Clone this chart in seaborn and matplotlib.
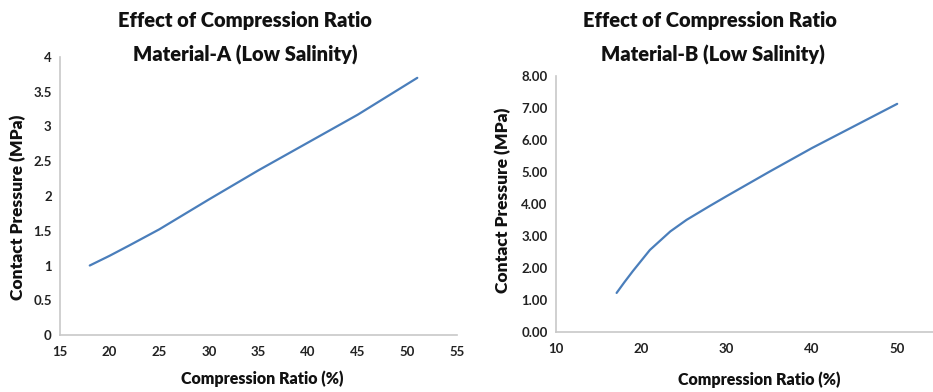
import matplotlib
matplotlib.use("Agg")
import matplotlib.pyplot as plt
import seaborn as sns
import pandas as pd

# Material-A (low salinity): compression ratio (%) vs contact pressure (MPa)
ratio_a = [18, 20, 22, 25, 30, 35, 40, 45, 51]
pressure_a = [1.00, 1.14, 1.29, 1.52, 1.95, 2.37, 2.77, 3.17, 3.70]

# Material-B (low salinity)
ratio_b = [17.1, 18, 19, 21, 23.4, 25.3, 28, 30, 35, 40, 45, 50]
pressure_b = [1.22, 1.55, 1.90, 2.56, 3.14, 3.50, 3.93, 4.24, 5.00, 5.74, 6.43, 7.12]

yticks_a = [0, 0.5, 1, 1.5, 2, 2.5, 3, 3.5, 4]
xticks_a = [15, 20, 25, 30, 35, 40, 45, 50, 55]
yticks_b = [0, 1, 2, 3, 4, 5, 6, 7, 8]
xticks_b = [10, 20, 30, 40, 50]

sns.set_theme(style="white")
plt.rcParams["font.family"] = ["Lato", "DejaVu Sans"]

LINE = "#4a7ebb"
SPINE = "#c8c8c8"

fig = plt.figure(figsize=(9.33, 3.92), dpi=100)
ax_a = fig.add_axes([0.0643, 0.1454, 0.4255, 0.7092])
ax_b = fig.add_axes([0.596, 0.153, 0.404, 0.654])

df_a = pd.DataFrame({"ratio": ratio_a, "pressure": pressure_a})
df_b = pd.DataFrame({"ratio": ratio_b, "pressure": pressure_b})

sns.lineplot(data=df_a, x="ratio", y="pressure", ax=ax_a, color=LINE, lw=1.6, sort=False)
sns.lineplot(data=df_b, x="ratio", y="pressure", ax=ax_b, color=LINE, lw=1.6, sort=False)

ax_a.set_xlim(15, 55)
ax_a.set_ylim(0, 4)
ax_a.set_xticks(xticks_a)
ax_a.set_yticks(yticks_a)
ax_a.set_yticklabels([f"{v:g}" for v in yticks_a])

ax_b.set_xlim(10, 54.2)
ax_b.set_ylim(0, 8)
ax_b.set_xticks(xticks_b)
ax_b.set_yticks(yticks_b)
ax_b.set_yticklabels([f"{v:.2f}" for v in yticks_b])

for ax in (ax_a, ax_b):
    ax.set_xlabel("")
    ax.set_ylabel("")
    for side in ("top", "right"):
        ax.spines[side].set_visible(False)
    for side in ("left", "bottom"):
        ax.spines[side].set_color(SPINE)
        ax.spines[side].set_linewidth(1.2)
    ax.tick_params(axis="both", length=0, labelsize=9.5, colors="#222222")
    ax.tick_params(axis="x", pad=8)
    ax.tick_params(axis="y", pad=6)
    for lab in ax.get_xticklabels() + ax.get_yticklabels():
        lab.set_fontweight("bold")

title_kw = dict(fontsize=14.5, fontweight="heavy", ha="center", va="center", color="#111111")
fig.text(245 / 933, 1 - 20 / 392, "Effect of Compression Ratio", **title_kw)
fig.text(245 / 933, 1 - 55 / 392, "Material-A (Low Salinity)", **title_kw)
fig.text(710 / 933, 1 - 20 / 392, "Effect of Compression Ratio", **title_kw)
fig.text(713 / 933, 1 - 55 / 392, "Material-B (Low Salinity)", **title_kw)

label_kw = dict(fontweight="heavy", color="#111111", ha="center", va="center")
fig.text(262 / 933, 1 - 379 / 392, "Compression Ratio (%)", fontsize=11.5, **label_kw)
fig.text(759 / 933, 1 - 380 / 392, "Compression Ratio (%)", fontsize=11.5, **label_kw)
fig.text(18 / 933, 1 - 207 / 392, "Contact Pressure (MPa)", rotation=90, fontsize=12.5, **label_kw)
fig.text(503 / 933, 1 - 200 / 392, "Contact Pressure (MPa)", rotation=90, fontsize=12.5, **label_kw)

fig.savefig("out.png", dpi=100, facecolor="white")
